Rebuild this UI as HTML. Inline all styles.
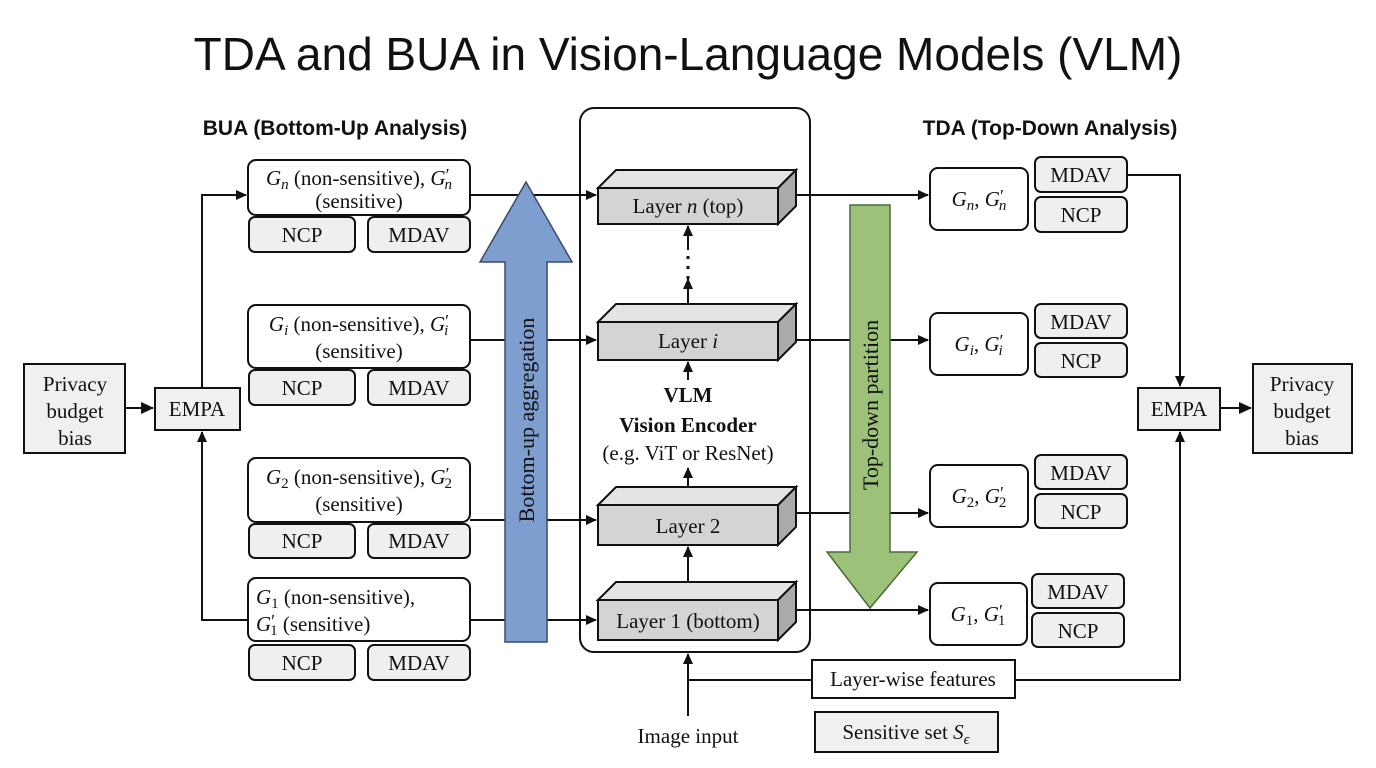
<!DOCTYPE html>
<html><head><meta charset="utf-8"><style>
html,body{margin:0;padding:0;background:#fff;}
svg{display:block;}
text{font-family:"Liberation Serif",serif;fill:#111;}
.s{font-family:"Liberation Sans",sans-serif;}
.m{font-style:italic;}
</style></head><body>
<svg width="1376" height="768" viewBox="0 0 1376 768" xmlns="http://www.w3.org/2000/svg">
<defs>
<marker id="a" markerWidth="11" markerHeight="10" refX="10" refY="5" orient="auto" markerUnits="userSpaceOnUse"><path d="M0,0 L11,5 L0,10 Z" fill="#111"/></marker>
<marker id="b" markerWidth="13" markerHeight="12" refX="12" refY="6" orient="auto" markerUnits="userSpaceOnUse"><path d="M0,0 L13,6 L0,12 Z" fill="#111"/></marker>
</defs>
<text class="s" x="688" y="70" font-size="46" text-anchor="middle">TDA and BUA in Vision-Language Models (VLM)</text>
<text class="s" x="335" y="135" font-size="21" font-weight="bold" text-anchor="middle">BUA (Bottom-Up Analysis)</text>
<text class="s" x="1050" y="135" font-size="21" font-weight="bold" text-anchor="middle">TDA (Top-Down Analysis)</text>

<g stroke="#111" stroke-width="2" fill="none">
<rect x="24" y="364" width="101" height="89" fill="#f0f0f0"/>
<rect x="155" y="388" width="85" height="42" fill="#f0f0f0"/>
<line x1="125" y1="408" x2="153" y2="408" marker-end="url(#b)"/>
<polyline points="202,388 202,195 246,195" marker-end="url(#a)"/>
<polyline points="248,620 202,620 202,432" marker-end="url(#a)"/>
<rect x="248" y="160" width="222" height="55" rx="8" fill="#fff"/>
<rect x="249" y="217" width="106" height="35" rx="6" fill="#efefef"/>
<rect x="368" y="217" width="102" height="35" rx="6" fill="#efefef"/>
<rect x="248" y="305" width="222" height="63" rx="8" fill="#fff"/>
<rect x="249" y="370" width="106" height="35" rx="6" fill="#efefef"/>
<rect x="368" y="370" width="102" height="35" rx="6" fill="#efefef"/>
<rect x="248" y="458" width="222" height="64" rx="8" fill="#fff"/>
<rect x="249" y="524" width="106" height="34" rx="6" fill="#efefef"/>
<rect x="368" y="524" width="102" height="34" rx="6" fill="#efefef"/>
<rect x="248" y="578" width="222" height="63" rx="8" fill="#fff"/>
<rect x="249" y="645" width="106" height="35" rx="6" fill="#efefef"/>
<rect x="368" y="645" width="102" height="35" rx="6" fill="#efefef"/>
<line x1="470" y1="195" x2="596" y2="195" marker-end="url(#a)"/>
<line x1="470" y1="340" x2="596" y2="340" marker-end="url(#a)"/>
<line x1="470" y1="520" x2="596" y2="520" marker-end="url(#a)"/>
<line x1="470" y1="620" x2="596" y2="620" marker-end="url(#a)"/>
</g>
<path d="M505,642 L505,262 L480,262 L526,182 L572,262 L547,262 L547,642 Z" fill="#7f9ed0" stroke="#3a4a6a" stroke-width="1.5"/>
<text x="0" y="0" font-size="22" text-anchor="middle" transform="translate(534,420) rotate(-90)">Bottom-up aggregation</text>

<rect x="580" y="108" width="230" height="544" rx="14" fill="none" stroke="#111" stroke-width="2"/>
<g stroke="#111" stroke-width="2">
<g fill="#d4d4d4">
<polygon points="598,188 616,170 796,170 778,188" fill="#e4e4e4"/><polygon points="778,188 796,170 796,206 778,224" fill="#aaa"/><rect x="598" y="188" width="180" height="36"/>
<polygon points="598,322 616,304 796,304 778,322" fill="#e4e4e4"/><polygon points="778,322 796,304 796,342 778,360" fill="#aaa"/><rect x="598" y="322" width="180" height="38"/>
<polygon points="598,505 616,487 796,487 778,505" fill="#e4e4e4"/><polygon points="778,505 796,487 796,527 778,545" fill="#aaa"/><rect x="598" y="505" width="180" height="40"/>
<polygon points="598,600 616,582 796,582 778,600" fill="#e4e4e4"/><polygon points="778,600 796,582 796,622 778,640" fill="#aaa"/><rect x="598" y="600" width="180" height="40"/>
</g>
<g fill="none">
<line x1="688" y1="304" x2="688" y2="279" marker-end="url(#a)"/>
<line x1="688" y1="250" x2="688" y2="226" marker-end="url(#a)"/>
<line x1="688" y1="256" x2="688" y2="292" stroke-dasharray="3,7" stroke-width="3"/>
<line x1="688" y1="380" x2="688" y2="362" marker-end="url(#a)"/>
<line x1="688" y1="487" x2="688" y2="468" marker-end="url(#a)"/>
<line x1="688" y1="582" x2="688" y2="547" marker-end="url(#a)"/>
<line x1="688" y1="716" x2="688" y2="654" marker-end="url(#a)"/>
<line x1="688" y1="680" x2="812" y2="680"/>
<polyline points="1015,680 1180,680 1180,432" marker-end="url(#a)"/>
<polyline points="1127,175 1180,175 1180,386" marker-end="url(#a)"/>
<line x1="795" y1="195" x2="928" y2="195" marker-end="url(#a)"/>
<line x1="795" y1="340" x2="928" y2="340" marker-end="url(#a)"/>
<line x1="795" y1="513" x2="928" y2="513" marker-end="url(#a)"/>
<line x1="795" y1="610" x2="928" y2="610" marker-end="url(#a)"/>
</g>
<rect x="812" y="660" width="203" height="38" fill="#fff"/>
<rect x="815" y="712" width="183" height="40" fill="#f0f0f0"/>
<rect x="1138" y="388" width="82" height="42" fill="#f0f0f0"/>
<line x1="1220" y1="408" x2="1251" y2="408" marker-end="url(#b)" fill="none"/>
<rect x="1253" y="364" width="99" height="89" fill="#f0f0f0"/>
<rect x="930" y="168" width="98" height="62" rx="8" fill="#fff"/>
<rect x="1035" y="157" width="92" height="35" rx="6" fill="#efefef"/>
<rect x="1035" y="197" width="92" height="35" rx="6" fill="#efefef"/>
<rect x="930" y="313" width="98" height="62" rx="8" fill="#fff"/>
<rect x="1035" y="304" width="92" height="34" rx="6" fill="#efefef"/>
<rect x="1035" y="343" width="92" height="34" rx="6" fill="#efefef"/>
<rect x="930" y="465" width="98" height="62" rx="8" fill="#fff"/>
<rect x="1035" y="455" width="92" height="34" rx="6" fill="#efefef"/>
<rect x="1035" y="494" width="92" height="34" rx="6" fill="#efefef"/>
<rect x="930" y="583" width="97" height="62" rx="8" fill="#fff"/>
<rect x="1032" y="574" width="92" height="34" rx="6" fill="#efefef"/>
<rect x="1032" y="613" width="92" height="34" rx="6" fill="#efefef"/>
</g>
<path d="M850,205 L890,205 L890,552 L917,552 L870,608 L827,552 L850,552 Z" fill="#9cc27a" stroke="#4a6a3a" stroke-width="1.5"/>
<text x="0" y="0" font-size="22" text-anchor="middle" transform="translate(878,405) rotate(-90)">Top-down partition</text>

<g font-size="21" text-anchor="middle">
<text x="75" y="391">Privacy</text><text x="75" y="418">budget</text><text x="75" y="445">bias</text>
<text x="197" y="416">EMPA</text>
<text x="1179" y="416">EMPA</text>
<text x="1302" y="391">Privacy</text><text x="1302" y="418">budget</text><text x="1302" y="445">bias</text>

<text x="359" y="185"><tspan class="m">G</tspan><tspan font-size="15" class="m" dy="4">n</tspan><tspan dy="-4"> (non-sensitive), </tspan><tspan class="m">G</tspan><tspan font-size="18" dy="-4">′</tspan><tspan font-size="15" class="m" dx="-5" dy="8">n</tspan></text>
<text x="359" y="208">(sensitive)</text>
<text x="359" y="331"><tspan class="m">G</tspan><tspan font-size="15" class="m" dy="4">i</tspan><tspan dy="-4"> (non-sensitive), </tspan><tspan class="m">G</tspan><tspan font-size="18" dy="-4">′</tspan><tspan font-size="15" class="m" dx="-5" dy="8">i</tspan></text>
<text x="359" y="358">(sensitive)</text>
<text x="359" y="484"><tspan class="m">G</tspan><tspan font-size="15" dy="4">2</tspan><tspan dy="-4"> (non-sensitive), </tspan><tspan class="m">G</tspan><tspan font-size="18" dy="-4">′</tspan><tspan font-size="15" dx="-5" dy="8">2</tspan></text>
<text x="359" y="511">(sensitive)</text>
<text x="256" y="604" text-anchor="start"><tspan class="m">G</tspan><tspan font-size="15" dy="4">1</tspan><tspan dy="-4"> (non-sensitive),</tspan></text>
<text x="256" y="631" text-anchor="start"><tspan class="m">G</tspan><tspan font-size="18" dy="-4">′</tspan><tspan font-size="15" dx="-5" dy="8">1</tspan><tspan dy="-4"> (sensitive)</tspan></text>

<g font-size="21">
<text x="302" y="242">NCP</text><text x="419" y="242">MDAV</text>
<text x="302" y="395">NCP</text><text x="419" y="395">MDAV</text>
<text x="302" y="548">NCP</text><text x="419" y="548">MDAV</text>
<text x="302" y="670">NCP</text><text x="419" y="670">MDAV</text>
<text x="1081" y="182">MDAV</text><text x="1081" y="222">NCP</text>
<text x="1081" y="329">MDAV</text><text x="1081" y="368">NCP</text>
<text x="1081" y="480">MDAV</text><text x="1081" y="519">NCP</text>
<text x="1078" y="599">MDAV</text><text x="1078" y="638">NCP</text>
</g>

<text x="688" y="213">Layer <tspan class="m">n</tspan> (top)</text>
<text x="688" y="348">Layer <tspan class="m">i</tspan></text>
<text x="688" y="533">Layer 2</text>
<text x="688" y="628">Layer 1 (bottom)</text>
<text x="688" y="402" font-weight="bold">VLM</text>
<text x="688" y="432" font-weight="bold">Vision Encoder</text>
<text x="688" y="460">(e.g. ViT or ResNet)</text>
<text x="688" y="743">Image input</text>
<text x="913" y="686">Layer-wise features</text>
<text x="906" y="739">Sensitive set <tspan class="m">S</tspan><tspan font-size="15" class="m" dy="5">ϵ</tspan></text>

<text x="979" y="206"><tspan class="m">G</tspan><tspan font-size="15" class="m" dy="4">n</tspan><tspan dy="-4">, </tspan><tspan class="m">G</tspan><tspan font-size="18" dy="-4">′</tspan><tspan font-size="15" class="m" dx="-5" dy="8">n</tspan></text>
<text x="979" y="351"><tspan class="m">G</tspan><tspan font-size="15" class="m" dy="4">i</tspan><tspan dy="-4">, </tspan><tspan class="m">G</tspan><tspan font-size="18" dy="-4">′</tspan><tspan font-size="15" class="m" dx="-5" dy="8">i</tspan></text>
<text x="979" y="503"><tspan class="m">G</tspan><tspan font-size="15" dy="4">2</tspan><tspan dy="-4">, </tspan><tspan class="m">G</tspan><tspan font-size="18" dy="-4">′</tspan><tspan font-size="15" dx="-5" dy="8">2</tspan></text>
<text x="978" y="621"><tspan class="m">G</tspan><tspan font-size="15" dy="4">1</tspan><tspan dy="-4">, </tspan><tspan class="m">G</tspan><tspan font-size="18" dy="-4">′</tspan><tspan font-size="15" dx="-5" dy="8">1</tspan></text>
</g>
</svg>
</body></html>
